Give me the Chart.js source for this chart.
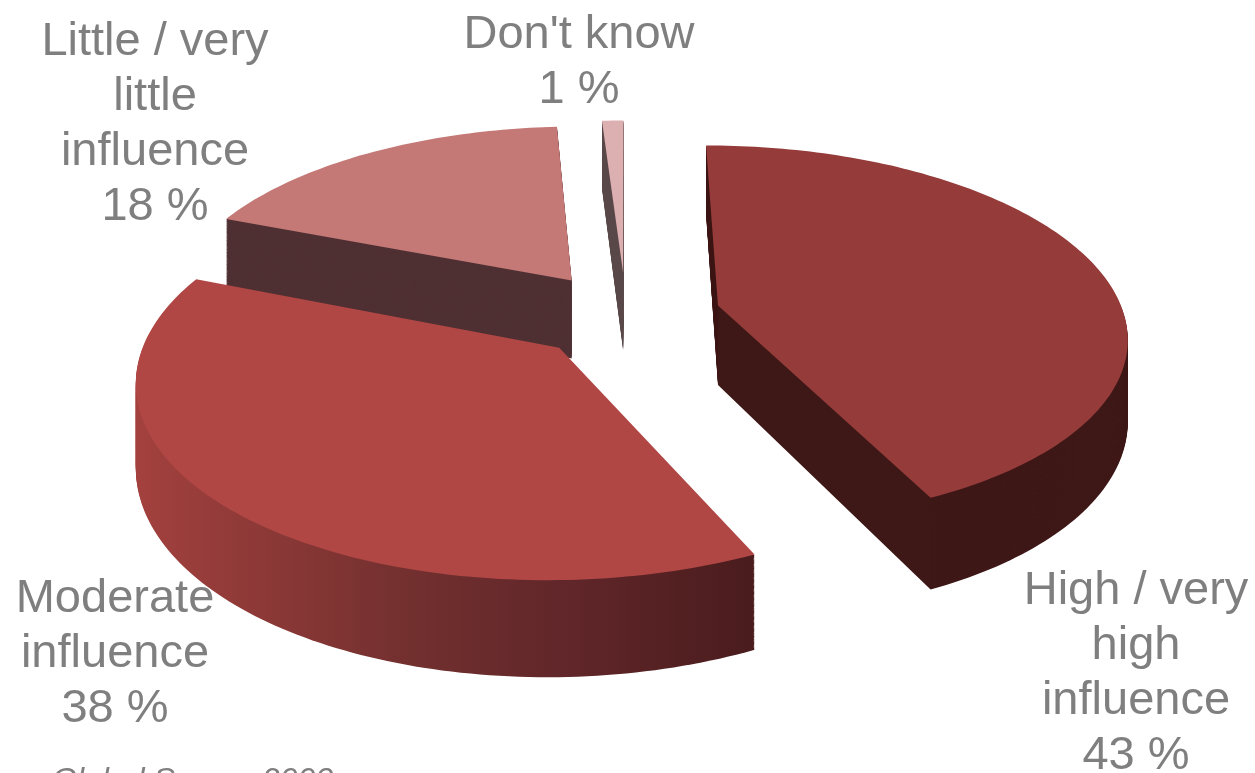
<!DOCTYPE html>
<html>
<head>
<meta charset="utf-8">
<script src="https://cdn.jsdelivr.net/npm/chart.js@4.4.1/dist/chart.umd.min.js"></script>
<style>
html, body { margin: 0; padding: 0; background: #fff; }
#wrap { width: 1255px; height: 773px; position: relative; }
</style>
</head>
<body>
<div id="wrap"><canvas id="chart"></canvas></div>
<script>

// data, clockwise from 12 o'clock
var categories = [["High / very", "high", "influence"], ["Moderate", "influence"], ["Little / very", "little", "influence"], ["Don't know"]];
var values = [43, 38, 18, 1];
var topColors = ["#953c3a", "#b04745", "#c47977", "#dcafb1"];
var wallColors = ["#3e1817", null, "#4f3033", "#5b4a4b"]; // null -> gradient

// look of the fake 3d
var TILT = 0.46;    // vertical squash of the disc
var PERSP = 0.15;   // how much nearer parts grow
var DEPTH = 80;
var EXPLODE = 95;
var RADIUS = 406;

// where the label blocks sit (center x, first baseline)
var labelSpots = [[1136, 604], [115, 612], [155, 55], [579, 48]];
var LINE_H = 55;

// u: right, w: towards the viewer, z: down the side wall
function project(arc, u, w, z){
    var s = 1 / (1 - PERSP * w / arc.outerRadius);
    return [arc.x + u * s, arc.y + (TILT * w + z) * s];
}

function slicePoints(arc, z){
    var mid = (arc.startAngle + arc.endAngle) / 2;
    var ex = Math.cos(mid) * EXPLODE, ey = Math.sin(mid) * EXPLODE;
    var r = arc.outerRadius;
    var span = arc.endAngle - arc.startAngle;
    var n = Math.max(2, Math.ceil(span / 0.02));
    var pts = [project(arc, ex, ey, z)];
    for (var k = 0; k <= n; k++) {
        var a = arc.startAngle + span * k / n;
        pts.push(project(arc, ex + r * Math.cos(a), ey + r * Math.sin(a), z));
    }
    return pts;
}

function fillPts(ctx, pts){
    ctx.beginPath();
    ctx.moveTo(pts[0][0], pts[0][1]);
    for (var k = 1; k < pts.length; k++) ctx.lineTo(pts[k][0], pts[k][1]);
    ctx.closePath();
    ctx.fill();
}

function wallFill(ctx, i, arc){
    if (wallColors[i]) return wallColors[i];
    var pts = slicePoints(arc, 0);
    var xs = pts.map(function(p){ return p[0]; });
    var g = ctx.createLinearGradient(Math.min.apply(null, xs), 0, Math.max.apply(null, xs), 0);
    g.addColorStop(0, "#a3413e");
    g.addColorStop(0.43, "#73302f");
    g.addColorStop(0.68, "#62272a");
    g.addColorStop(1, "#4a1c1d");
    return g;
}

var pie3d = {
    id: "pie3d",
    beforeDatasetsDraw: function(chart){
        var ctx = chart.ctx;
        var arcs = chart.getDatasetMeta(0).data;
        var order = [3, 2, 0, 1];
        ctx.save();

        // side walls first, back to front
        order.forEach(function(i){
            var arc = arcs[i];
            ctx.fillStyle = wallFill(ctx, i, arc);
            for (var d = DEPTH; d >= 1; d--) fillPts(ctx, slicePoints(arc, d));
        });

        // then the tops
        order.forEach(function(i){
            ctx.fillStyle = arcs[i].options.backgroundColor;
            fillPts(ctx, slicePoints(arcs[i], 0));
        });

        ctx.restore();
        return false;
    },
    afterDraw: function(chart){
        var ctx = chart.ctx;
        ctx.save();
        ctx.fillStyle = "#7f7f7f";
        ctx.textAlign = "center";
        ctx.textBaseline = "alphabetic";
        ctx.font = "47px 'Liberation Sans', Arial, sans-serif";
        categories.forEach(function(lines, i){
            var all = lines.concat([values[i] + " %"]);
            all.forEach(function(t, j){
                ctx.fillText(t, labelSpots[i][0], labelSpots[i][1] + j * LINE_H);
            });
        });
        ctx.textAlign = "left";
        ctx.font = "italic 32px 'Liberation Sans', Arial, sans-serif";
        ctx.fillText("Global Survey 2003", 52, 790);
        ctx.restore();
    }
};

function draw_chart(){
    new Chart("chart", {
        type: "pie",
        data: {
            labels: categories,
            datasets: [{
                data: values,
                backgroundColor: topColors,
                borderWidth: 0,
                radius: RADIUS
            }]
        },
        options: {
            responsive: true,
            maintainAspectRatio: false,
            animation: false,
            events: [],
            rotation: 0,
            layout: {padding: {right: 3, bottom: 143}},
            plugins: {
                legend: {display: false},
                tooltip: {enabled: false}
            }
        },
        plugins: [pie3d]
    });
}

draw_chart();
</script>
</body>
</html>
